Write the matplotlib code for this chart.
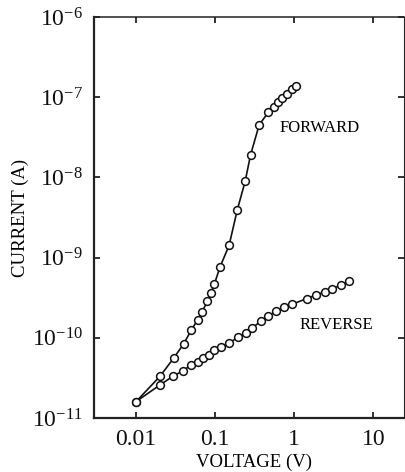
import matplotlib
matplotlib.use("Agg")
import matplotlib.pyplot as plt
from matplotlib.ticker import FixedLocator, FixedFormatter, NullLocator

plt.rcParams["font.family"] = ["Liberation Serif", "DejaVu Serif"]
plt.rcParams["mathtext.fontset"] = "custom"
plt.rcParams["mathtext.rm"] = "Liberation Serif"

# forward bias curve (V, A)
fwd_v = [0.01, 0.02, 0.03, 0.04, 0.05, 0.06, 0.068, 0.08, 0.088, 0.098,
         0.115, 0.15, 0.19, 0.24, 0.28, 0.36, 0.47, 0.55, 0.62, 0.71,
         0.81, 0.925, 1.04]
fwd_i = [1.6e-11, 3.3e-11, 5.6e-11, 8.4e-11, 1.25e-10, 1.67e-10, 2.1e-10,
         2.84e-10, 3.6e-10, 4.7e-10, 7.6e-10, 1.42e-9, 3.9e-9, 9.0e-9,
         1.9e-8, 4.5e-8, 6.5e-8, 7.45e-8, 8.6e-8, 9.8e-8, 1.1e-7, 1.25e-7,
         1.36e-7]

# reverse bias curve (V, A)
rev_v = [0.01, 0.02, 0.0296, 0.0397, 0.0495, 0.061, 0.071, 0.083, 0.097,
         0.119, 0.148, 0.195, 0.248, 0.293, 0.38, 0.467, 0.589, 0.733,
         0.938, 1.45, 1.89, 2.42, 3.0, 3.87, 4.93]
rev_i = [1.6e-11, 2.58e-11, 3.34e-11, 3.9e-11, 4.6e-11, 5.0e-11, 5.6e-11,
         6.1e-11, 7.05e-11, 7.7e-11, 8.6e-11, 1.01e-10, 1.16e-10, 1.32e-10,
         1.62e-10, 1.85e-10, 2.16e-10, 2.39e-10, 2.62e-10, 3.09e-10,
         3.42e-10, 3.72e-10, 4.06e-10, 4.55e-10, 5.1e-10]

x_ticks = [0.01, 0.1, 1, 10]
x_labels = ["0.01", "0.1", "1", "10"]
y_ticks = [1e-11, 1e-10, 1e-9, 1e-8, 1e-7, 1e-6]
y_labels = [r"$\mathregular{10^{-11}}$", r"$\mathregular{10^{-10}}$",
            r"$\mathregular{10^{-9}}$", r"$\mathregular{10^{-8}}$",
            r"$\mathregular{10^{-7}}$", r"$\mathregular{10^{-6}}$"]

fig = plt.figure(figsize=(4.05, 4.72), dpi=100)
ax = fig.add_axes([0.2321, 0.1144, 0.7654, 0.8496])

for v, i in [(fwd_v, fwd_i), (rev_v, rev_i)]:
    ax.plot(v, i, color="#111111", lw=1.2, marker="o", ms=5.6,
            mfc="white", mec="#111111", mew=1.1)

ax.set_xscale("log")
ax.set_yscale("log")
ax.set_xlim(0.00294, 24.4)
ax.set_ylim(1e-11, 1e-6)

ax.xaxis.set_major_locator(FixedLocator(x_ticks))
ax.xaxis.set_major_formatter(FixedFormatter(x_labels))
ax.xaxis.set_minor_locator(NullLocator())
ax.yaxis.set_major_locator(FixedLocator(y_ticks))
ax.yaxis.set_major_formatter(FixedFormatter(y_labels))
ax.yaxis.set_minor_locator(NullLocator())

ax.tick_params(which="major", direction="in", length=4, width=1.2,
               top=True, right=True, labelsize=17, pad=8, colors="#111111")

for side, w in [("left", 1.6), ("bottom", 1.6), ("top", 1.1), ("right", 0.8)]:
    ax.spines[side].set_linewidth(w)
    ax.spines[side].set_color("#222222")

ax.set_xlabel("VOLTAGE (V)", fontsize=13.5)
ax.set_ylabel("CURRENT (A)", fontsize=13.5)
ax.xaxis.set_label_coords(0.516, -0.09)
ax.yaxis.set_label_coords(-0.21, 0.5)

ax.text(0.66, 3.72e-8, "FORWARD", fontsize=12, ha="left", va="baseline")
ax.text(1.15, 1.27e-10, "REVERSE", fontsize=12, ha="left", va="baseline")

fig.savefig("out.png", dpi=100)
